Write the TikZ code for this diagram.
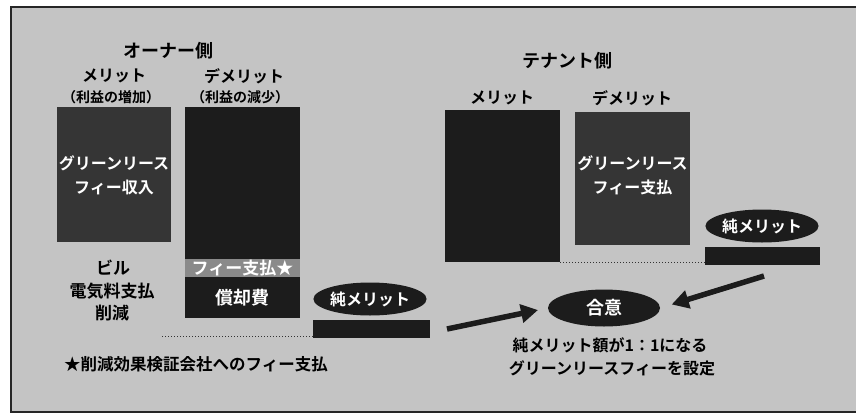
\documentclass[tikz,border=0pt]{standalone}
\usepackage{fontspec}
\setmainfont{Noto Sans CJK JP}[BoldFont={Noto Sans CJK JP Bold}]
\usetikzlibrary{arrows.meta,shapes.geometric}
\definecolor{bgray}{HTML}{C4C4C4}
\definecolor{tex}{HTML}{353535}
\definecolor{blk}{HTML}{1C1C1C}
\definecolor{band}{HTML}{8A8A8A}
\tikzset{
  lbl/.style={font=\bfseries\fontsize{16}{18}\selectfont, text=black, inner sep=0pt},
  ttl/.style={font=\bfseries\fontsize{18}{20}\selectfont, text=black, inner sep=0pt},
  wtxt/.style={font=\bfseries\fontsize{16}{18}\selectfont, text=white, inner sep=0pt},
  blkbox/.style={fill=blk, draw=none},
  texbox/.style={fill=tex, draw=none},
  pill/.style={ellipse, fill=blk, text=white, font=\bfseries\fontsize{16}{18}\selectfont, minimum width=111pt, minimum height=33pt, inner sep=0pt},
  bigarrow/.style={line width=5.5pt, blk, -{Triangle[length=17pt,width=18pt]}},
  dotline/.style={dotted, line width=1pt, black!80}
}
\begin{document}
\begin{tikzpicture}[x=1pt,y=-1pt]
\useasboundingbox (0,0) rectangle (856,418);
% frame
\fill[bgray] (11,7) rectangle (856,412);
\draw[line width=1.3pt, black!85] (856,7) -- (11,7) -- (11,412) -- (856,412);

% ===== owner side =====
\node[ttl] (otitle) at (168,51) {オーナー側};
\node[lbl] (omerit) at (114,76) {メリット};
\node[lbl, font=\bfseries\fontsize{14}{16}\selectfont] (omeritsub) at (111,97) {（利益の増加）};
\node[lbl] (odem) at (244,76) {デメリット};
\node[lbl, font=\bfseries\fontsize{14}{16}\selectfont] (odemsub) at (240,97) {（利益の減少）};

\path[texbox] (57,107) rectangle (171,242);
\node[wtxt] (oglf1) at (114,163) {グリーンリース};
\node[wtxt] (oglf2) at (114,187) {フィー収入};

\path[blkbox] (185,107) rectangle (300,259);
\fill[band] (185,259) rectangle (300,277);
\node[wtxt, font=\bfseries\fontsize{17}{18}\selectfont] (ofee) at (242.5,268) {フィー支払★};
\path[blkbox] (185,277) rectangle (300,318);
\node[wtxt, font=\bfseries\fontsize{18}{20}\selectfont] (odep) at (242.5,298) {償却費};

\node[lbl, font=\bfseries\fontsize{17}{19}\selectfont] (obldg) at (113,268) {ビル};
\node[lbl, font=\bfseries\fontsize{17}{19}\selectfont] (oelec) at (112,291) {電気料支払};
\node[lbl, font=\bfseries\fontsize{17}{19}\selectfont] (ored) at (112,313) {削減};

\node[pill] (onet) at (370,299) {純メリット};
\node[blkbox, minimum width=117pt, minimum height=18pt, inner sep=0pt] (obar) at (371.5,329) {};
\coordinate (odots) at (162,336);
\draw[dotline] (odots) -- (obar.south west |- odots);

\node[lbl, font=\bfseries\fontsize{16.5}{18}\selectfont] (onote) at (196,364) {★削減効果検証会社へのフィー支払};

% ===== tenant side =====
\node[ttl] (ttitle) at (567,61) {テナント側};
\node[lbl] (tmerit) at (502,98) {メリット};
\node[lbl] (tdem) at (632,98) {デメリット};

\path[blkbox] (445,110) rectangle (560,262);
\path[texbox] (575,112) rectangle (690,245);
\node[wtxt] (tglf1) at (632.5,163) {グリーンリース};
\node[wtxt] (tglf2) at (632.5,187) {フィー支払};

\node[pill] (tnet) at (762,226) {純メリット};
\node[blkbox, minimum width=115pt, minimum height=18pt, inner sep=0pt] (tbar) at (762.5,256) {};
\coordinate (tdots) at (560,262);
\draw[dotline] (tdots) -- (tbar.south west |- tdots);

% ===== agreement =====
\node[pill, minimum width=112pt, minimum height=37pt, font=\bfseries\fontsize{18}{20}\selectfont] (agree) at (604,308) {合意};
\coordinate (a1s) at (447,329);
\coordinate (a2s) at (764,276);
\draw[bigarrow, shorten >=10pt] (a1s) -- (agree.west);
\draw[bigarrow, shorten >=12pt] (a2s) -- (agree.east);

\node[lbl, font=\bfseries\fontsize{16}{18}\selectfont] (tnote1) at (610,345) {純メリット額が1：1になる};
\node[lbl, font=\bfseries\fontsize{16}{18}\selectfont] (tnote2) at (612,368) {グリーンリースフィーを設定};
\end{tikzpicture}
\end{document}
